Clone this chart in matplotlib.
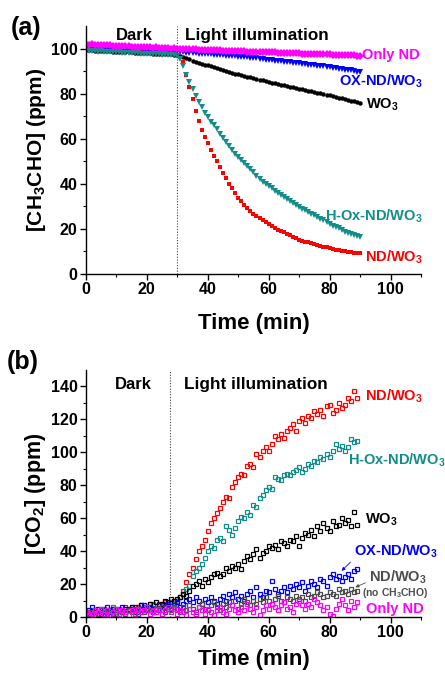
import matplotlib
matplotlib.use("Agg")
import matplotlib.pyplot as plt
import numpy as np

plt.rcParams['font.family'] = ['Liberation Sans', 'DejaVu Sans']
plt.rcParams['font.weight'] = 'bold'
plt.rcParams['mathtext.fontset'] = 'custom'
plt.rcParams['mathtext.rm'] = 'Liberation Sans:bold'
plt.rcParams['mathtext.bf'] = 'Liberation Sans:bold'
plt.rcParams['mathtext.it'] = 'Liberation Sans:bold'
plt.rcParams['mathtext.default'] = 'rm'

# ---- panel (a): acetaldehyde decay, one point per minute ----
time_a = np.arange(0, 91)

nd_a = [100.0, 99.9, 99.9, 99.8, 99.7, 99.7, 99.6, 99.5, 99.5, 99.4,
        99.3, 99.3, 99.2, 99.1, 99.1, 99.0, 98.9, 98.9, 98.8, 98.7,
        98.7, 98.6, 98.5, 98.4, 98.3, 98.2, 98.1, 98.0, 97.8, 97.6,
        97.2, 96.3, 94.0, 88.5, 83.0, 77.5, 72.5, 68.0, 64.0, 61.0,
        58.0, 55.0, 52.5, 50.0, 47.5, 45.0, 42.5, 40.0, 38.0, 35.8,
        33.8, 32.2, 30.6, 29.2, 27.8, 26.7, 25.6, 24.7, 24.1, 23.2,
        22.2, 21.2, 20.3, 19.7, 19.1, 18.5, 17.8, 17.2, 16.6, 15.9,
        15.3, 14.8, 14.4, 14.0, 13.6, 13.2, 12.9, 12.6, 12.2, 11.8,
        11.4, 11.1, 10.8, 10.5, 10.2, 10.0, 9.8, 9.6, 9.4, 9.3, 9.2]

hox_a = [99.0, 98.9, 99.1, 98.9, 98.8, 98.9, 98.7, 98.6, 98.7, 98.5,
         98.4, 98.5, 98.3, 98.2, 98.3, 98.1, 98.0, 98.1, 97.9, 97.8,
         97.9, 97.7, 97.6, 97.7, 97.5, 97.4, 97.5, 97.3, 97.2, 97.2,
         97.0, 95.5, 92.3, 88.5, 85.2, 82.0, 79.0, 76.5, 74.0, 71.6,
         69.5, 67.6, 66.0, 64.4, 62.2, 60.2, 58.5, 56.9, 55.1, 53.5,
         52.0, 50.8, 49.4, 48.0, 46.6, 45.1, 43.6, 42.2, 41.0, 40.0,
         39.0, 38.0, 37.0, 36.0, 35.0, 34.0, 33.1, 32.2, 31.4, 30.6,
         29.8, 29.0, 28.2, 27.5, 26.7, 26.0, 25.3, 24.5, 23.8, 23.0,
         22.2, 21.5, 20.8, 20.2, 19.5, 18.8, 18.2, 17.6, 17.1, 16.7, 16.3]

wo3_a = [99.4, 99.3, 99.3, 99.2, 99.1, 99.1, 99.0, 98.9, 98.9, 98.8,
         98.7, 98.7, 98.6, 98.5, 98.5, 98.4, 98.3, 98.3, 98.2, 98.1,
         98.1, 98.0, 97.9, 97.9, 97.8, 97.7, 97.7, 97.6, 97.5, 97.4,
         97.3, 96.8, 96.3, 95.8, 95.3, 94.8, 94.3, 93.8, 93.4, 93.0,
         92.6, 92.2, 91.8, 91.4, 91.0, 90.6, 90.2, 89.8, 89.4, 89.0,
         88.7, 88.4, 88.0, 87.6, 87.3, 87.0, 86.6, 86.3, 86.0, 85.6,
         85.3, 85.0, 84.7, 84.4, 84.1, 83.8, 83.5, 83.2, 82.9, 82.6,
         82.3, 82.0, 81.7, 81.4, 81.1, 80.8, 80.5, 80.2, 79.9, 79.6,
         79.3, 79.0, 78.7, 78.3, 78.0, 77.7, 77.3, 77.0, 76.6, 76.3, 75.9]

ox_a = [100.6, 100.5, 100.5, 100.4, 100.3, 100.3, 100.2, 100.1, 100.1, 100.0,
        99.9, 99.9, 99.8, 99.7, 99.7, 99.6, 99.5, 99.5, 99.4, 99.3,
        99.3, 99.2, 99.1, 99.1, 99.0, 98.9, 98.9, 98.8, 98.8, 98.7,
        98.6, 98.5, 98.4, 98.3, 98.2, 98.1, 98.0, 97.9, 97.8, 97.7,
        97.6, 97.5, 97.4, 97.3, 97.2, 97.1, 97.0, 96.9, 96.8, 96.6,
        96.5, 96.4, 96.3, 96.2, 96.1, 96.0, 95.8, 95.6, 95.4, 95.2,
        95.0, 94.9, 94.7, 94.6, 94.4, 94.3, 94.1, 94.0, 93.8, 93.7,
        93.5, 93.3, 93.2, 93.0, 92.8, 92.7, 92.5, 92.3, 92.2, 92.0,
        91.8, 91.6, 91.4, 91.2, 91.0, 90.8, 90.6, 90.4, 90.2, 89.9, 89.7]

only_a = [102.2, 101.9, 102.0, 101.8, 101.7, 101.8, 101.6, 101.5, 101.6, 101.4,
          101.3, 101.4, 101.2, 101.1, 101.2, 101.0, 100.9, 101.0, 100.8, 100.7,
          100.8, 100.6, 100.5, 100.6, 100.4, 100.3, 100.4, 100.2, 100.1, 100.2,
          100.0, 99.9, 99.9, 99.8, 99.8, 99.7, 99.7, 99.6, 99.6, 99.5,
          99.5, 99.4, 99.4, 99.3, 99.3, 99.2, 99.2, 99.1, 99.1, 99.0,
          99.0, 98.9, 98.9, 98.8, 98.8, 98.7, 98.7, 98.6, 98.6, 98.5,
          98.5, 98.4, 98.4, 98.3, 98.3, 98.2, 98.2, 98.1, 98.1, 98.0,
          98.0, 97.9, 97.9, 97.8, 97.8, 97.7, 97.7, 97.6, 97.6, 97.5,
          97.5, 97.4, 97.4, 97.3, 97.3, 97.2, 97.2, 97.1, 97.1, 97.0, 97.0]

# ---- panel (b): CO2 evolution, one point per minute ----
time_b = np.arange(0, 90)

nd_b = [2, 3, 1, 4, 3, 2, 5, 3, 4, 2, 5, 4, 3, 6, 4, 5, 3, 6, 7, 5,
        6, 8, 7, 5, 8, 7, 9, 8, 9, 10,
        10, 12, 16, 21, 26, 30, 35, 40, 43, 47, 52, 57, 60, 63, 66, 70, 73, 72, 79, 82,
        85, 87, 86, 92, 93, 91, 99, 97, 101, 103, 101, 105, 110, 108, 111, 109, 113, 115, 117, 113,
        119, 121, 118, 122, 121, 125, 123, 126, 122, 128, 129, 124, 126, 130, 127, 129, 133, 131, 137, 133]

hox_b = [1, 2, 4, 3, 2, 5, 3, 2, 4, 6, 3, 5, 4, 3, 5, 6, 4, 5, 7, 6,
         4, 6, 8, 5, 7, 6, 8, 7, 9, 8,
         10, 12, 14, 17, 19, 25, 28, 30, 32, 36, 40, 43, 42, 47, 48, 46, 55, 53, 50, 54,
         58, 61, 60, 64, 62, 68, 67, 72, 74, 77, 79, 78, 85, 84, 83, 86, 87, 86, 88, 89,
         91, 88, 90, 93, 92, 95, 94, 97, 96, 99, 97, 101, 105, 102, 104, 101, 103, 108, 106, 107]

wo3_b = [3, 1, 2, 4, 2, 3, 1, 4, 3, 5, 2, 4, 3, 5, 4, 6, 3, 5, 7, 4,
         6, 8, 5, 9, 7, 8, 10, 9, 11, 10,
         11, 12, 14, 13, 16, 19, 20, 22, 19, 23, 21, 24, 26, 27, 25, 26, 30, 28, 31, 30,
         32, 29, 34, 37, 35, 38, 41, 36, 39, 40, 43, 42, 44, 41, 46, 45, 43, 47, 46, 49,
         43, 48, 51, 50, 53, 49, 55, 52, 57, 54, 52, 58, 55, 56, 60, 57, 59, 55, 64, 56]

ox_b = [2, 4, 6, 3, 5, 2, 4, 6, 3, 5, 2, 4, 6, 3, 5, 4, 6, 3, 5, 7,
        4, 6, 3, 5, 7, 4, 6, 8, 5, 7,
        9, 6, 8, 10, 11, 9, 12, 10, 8, 11, 9, 12, 10, 8, 11, 13, 10, 14, 12, 15,
        11, 13, 10, 14, 16, 12, 18, 14, 12, 16, 15, 22, 17, 14, 16, 18, 15, 19, 17, 20,
        18, 21, 16, 19, 22, 20, 18, 23, 22, 19, 24, 26, 23, 25, 22, 24, 26, 23, 28, 29]

blank_b = [1, 2, 3, 1, 2, 4, 2, 3, 1, 3, 2, 4, 3, 2, 4, 3, 5, 2, 4, 3,
           5, 4, 3, 5, 4, 6, 3, 5, 4, 6,
           5, 3, 6, 4, 7, 5, 3, 6, 8, 5, 4, 7, 9, 6, 4, 8, 6, 9, 7, 10,
           5, 8, 11, 9, 7, 10, 8, 11, 9, 12, 10, 8, 11, 13, 10, 9, 12, 11, 10, 13,
           11, 12, 10, 14, 12, 13, 15, 14, 12, 13, 15, 14, 13, 17, 15, 16, 14, 17, 15, 16]

only_b = [3, 1, 2, 4, 3, 5, 2, 4, 1, 3, 5, 2, 4, 3, 1, 4, 2, 5, 3, 4,
          6, 2, 4, 3, 5, 2, 4, 6, 3, 5,
          2, 4, 3, 1, 5, 3, 2, 6, 4, 2, 5, 3, 1, 4, 6, 3, 2, 5, 7, 4,
          3, 6, 4, 8, 5, 3, 6, 1, 4, 7, 5, 8, 6, 4, 7, 9, 5, 6, 3, 8,
          10, 7, 5, 8, 6, 11, 9, 7, 4, 6, 2, 0.5, 5, 8, 11, 7, 4, 10, 6, 9]

RED, TEAL, BLACK, BLUE, MAG, GRAY = '#ff0000', '#138c8c', '#000000', '#0000ff', '#ff00ff', '#4d4d4d'


def style_axis(ax, ymax, ystep, labelpad):
    ax.set_xlim(0, 110)
    ax.set_ylim(0, ymax)
    ax.set_xticks(np.arange(0, 101, 20))
    ax.set_xticks(np.arange(10, 111, 10), minor=True)
    ax.set_yticks(np.arange(0, ymax, ystep))
    ax.set_yticks(np.arange(ystep / 2, ymax, ystep), minor=True)
    for s in ['top', 'right']:
        ax.spines[s].set_visible(False)
    for s in ['left', 'bottom']:
        ax.spines[s].set_linewidth(1.0)
    ax.tick_params(which='major', direction='out', length=4, width=1, labelsize=11.5, pad=2)
    ax.tick_params(which='minor', direction='out', length=2.5, width=0.8)
    for lab in ax.get_xticklabels() + ax.get_yticklabels():
        lab.set_fontweight('bold')
    ax.set_xlabel('Time (min)', fontsize=16, fontweight='bold', labelpad=labelpad)


fig = plt.figure(figsize=(4.45, 6.74), dpi=100)

# ---------------- (a) ----------------
ax1 = fig.add_axes([0.193, 0.5935, 0.753, 0.3675])
ax1.plot(time_a, nd_a, 's', color=RED, ms=3.0, mew=0)
ax1.plot(time_a, ox_a, 'v', color=BLUE, ms=4.0, mew=0)
ax1.plot(time_a, wo3_a, 'o', color=BLACK, ms=3.2, mew=0)
ax1.plot(time_a, hox_a, 'v', color=TEAL, ms=4.2, mew=0)
ax1.plot(time_a, only_a, 'D', color=MAG, ms=4.0, mew=0)
ax1.axvline(30, color='#444444', ls=(0, (1, 1.5)), lw=0.8)
style_axis(ax1, 110, 20, 11)
ax1.set_ylabel('[CH$_3$CHO] (ppm)', fontsize=15, fontweight='bold', labelpad=2)

ax1.text(16, 106, 'Dark', fontsize=12, fontweight='bold', ha='center', va='center')
ax1.text(32.5, 106, 'Light illumination', fontsize=12.3, fontweight='bold', ha='left', va='center')
ax1.text(90.7, 97.3, 'Only ND', color=MAG, fontsize=10.5, fontweight='bold', va='center')
ax1.text(83, 85.5, 'OX-ND/WO$_3$', color=BLUE, fontsize=10.5, fontweight='bold', va='center')
ax1.text(92, 75, 'WO$_3$', color=BLACK, fontsize=10.5, fontweight='bold', va='center')
ax1.text(78.4, 25.5, 'H-Ox-ND/WO$_3$', color=TEAL, fontsize=10.5, fontweight='bold', va='center')
ax1.text(91.5, 7.5, 'ND/WO$_3$', color=RED, fontsize=10.5, fontweight='bold', va='center')
fig.text(0.025, 0.958, '(a)', fontsize=18, fontweight='bold', va='center')

# ---------------- (b) ----------------
ax2 = fig.add_axes([0.193, 0.0846, 0.753, 0.3664])
kw = dict(ls='none', marker='s', ms=3.3, mew=0.9, mfc='none')
ax2.plot(time_b, nd_b, mec=RED, **kw)
ax2.plot(time_b, hox_b, mec=TEAL, **kw)
ax2.plot(time_b, wo3_b, mec=BLACK, **kw)
ax2.plot(time_b, ox_b, mec=BLUE, **kw)
ax2.plot(time_b, blank_b, mec=GRAY, **kw)
ax2.plot(time_b, only_b, mec=MAG, **kw)
ax2.axvline(27.5, color='#444444', ls=(0, (1, 1.5)), lw=0.8)
style_axis(ax2, 150, 20, 6)
ax2.set_ylabel('[CO$_2$] (ppm)', fontsize=15.5, fontweight='bold', labelpad=2)

ax2.text(15.5, 141.5, 'Dark', fontsize=12, fontweight='bold', ha='center', va='center')
ax2.text(32.2, 141.5, 'Light illumination', fontsize=12.3, fontweight='bold', ha='left', va='center')
ax2.text(91.5, 134, 'ND/WO$_3$', color=RED, fontsize=10.5, fontweight='bold', va='center')
ax2.text(86, 95, 'H-Ox-ND/WO$_3$', color=TEAL, fontsize=10.5, fontweight='bold', va='center')
ax2.text(91.7, 59, 'WO$_3$', color=BLACK, fontsize=10.5, fontweight='bold', va='center')
ax2.text(87.9, 39.6, 'OX-ND/WO$_3$', color=BLUE, fontsize=10.5, fontweight='bold', va='center')
ax2.text(92.9, 24.4, 'ND/WO$_3$', color=GRAY, fontsize=10.5, fontweight='bold', va='center')
ax2.text(90.7, 14.7, '(no CH$_3$CHO)', color=GRAY, fontsize=7.5, fontweight='bold', va='center')
ax2.text(92, 4.6, 'Only ND', color=MAG, fontsize=10.5, fontweight='bold', va='center')
ax2.annotate('', xy=(83.3, 26.8), xytext=(87.5, 34.5),
             arrowprops=dict(arrowstyle='-|>', color=BLUE, lw=0.6, mutation_scale=5))
ax2.annotate('', xy=(87.6, 17.4), xytext=(92.6, 21.4),
             arrowprops=dict(arrowstyle='-|>', color=GRAY, lw=0.6, mutation_scale=5))
fig.text(0.015, 0.463, '(b)', fontsize=18, fontweight='bold', va='center')

fig.savefig('out.png', dpi=100)
